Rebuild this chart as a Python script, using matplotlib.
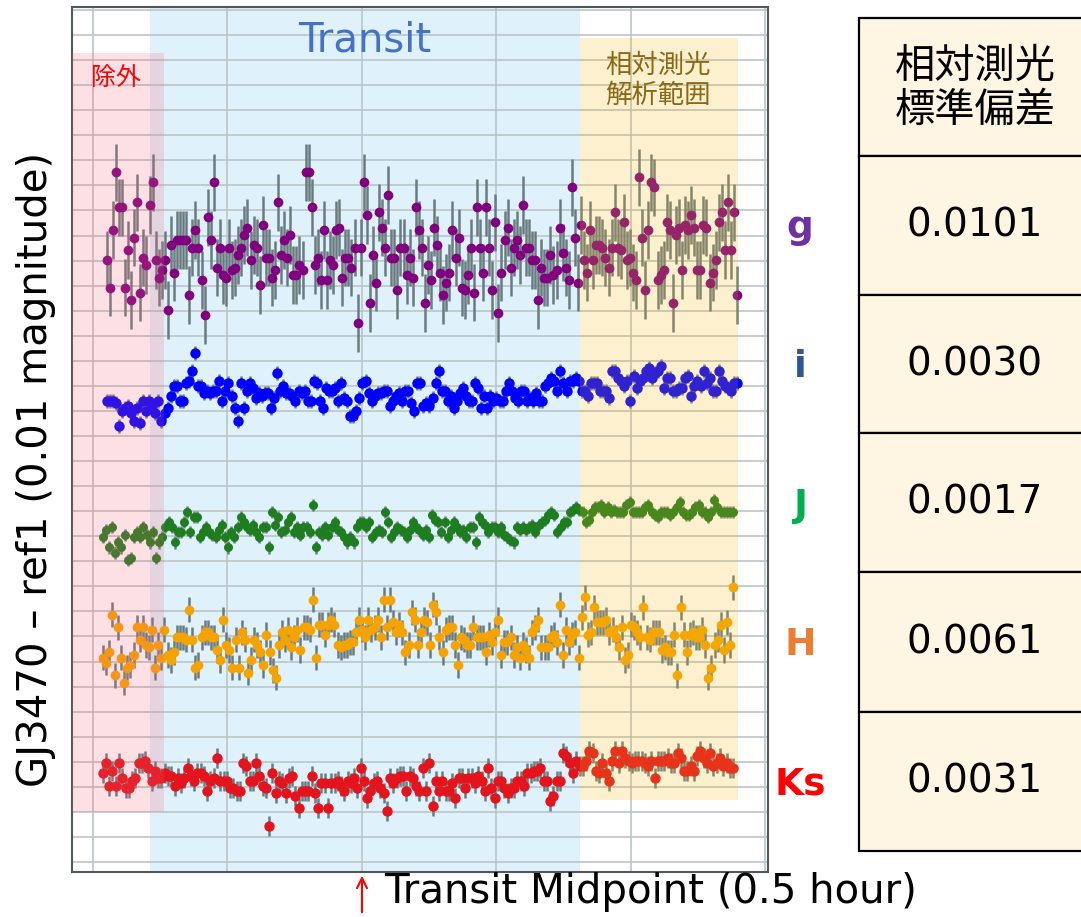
import numpy as np
import matplotlib
matplotlib.use("Agg")
import matplotlib.pyplot as plt
from matplotlib.patches import Rectangle

# light-curve deviations (units of 0.01 mag)
g_dev = [-0.4, -1.5, 0.8, 3.1, 1.7, 1.7, -1.5, 0.0, -2.0, 0.5, 1.9, -1.7, -0.3, -0.6, 1.8, 2.7, -0.4, -1.1,
         -0.8, -0.4, -2.4, 0.2, -0.9, 0.4, 0.4, 0.4, 0.4, -1.8, 0.1, 0.8, 0.1, -1.2, -2.6, 1.3, 0.4, 2.7,
         -0.7, 0.1, -1.0, -1.1, 0.1, -0.8, -0.7, -0.2, 0.1, 0.6, 0.9, -0.4, 0.2, 0.1, -1.4, 1.0, -0.3, -0.3,
         -1.1, -0.8, 1.9, -0.2, 0.4, -0.3, 0.6, -1.0, -1.0, -0.6, -0.8, 3.1, 3.1, 1.7, -0.6, -0.3, -1.2, 0.8,
         -1.2, -0.4, -0.6, 0.8, 0.9, -1.1, -0.3, -0.3, -0.7, 0.1, -2.9, 0.1, 2.7, 1.4, -2.1, -0.2, -1.3, 1.5,
         0.9, 0.1, 2.2, -0.3, -0.3, -1.6, 0.1, 0.1, -1.0, -0.3, -1.1, 1.7, 0.8, 0.1,
         -2.1, -0.6, -1.2, 0.9, 0.2, -0.9, -1.8, -1.3, -0.9, 0.8, -0.3, 0.5, -1.5, -1.6, -1.0, 0.1, -1.7, 1.7,
         0.1, -0.9, 1.7, 0.1, -1.6, 1.1, -2.5, -0.9, 0.4, 0.9, -0.7, 0.1, 0.4, -0.2, 1.8, 0.1, 0.1, -0.4,
         -0.4, -2.0, -0.7, -1.1, -1.1, -0.2, -1.0, -0.8, 0.9, -0.1, -0.7, -1.2, 2.5, 0.5, -1.3, 1.0, -0.4,
         -0.9, 0.8, -0.4, 0.2, 0.2, 0.1, -0.3, -0.7, 0.1, 1.5, 0.1, 0.0, 1.1, -0.4, -0.3, -0.9, -1.2, 2.9,
         0.5, -1.6, 0.8, 2.7, 2.5, -1.2, -1.0, -0.8, 1.1, 0.8, -2.1, 0.6, 0.9, -0.8, 1.0, 0.8, 1.4, 0.9,
         -0.8, -0.8, 1.0, 0.9, -1.3, -0.9, -0.4, 1.1, 1.5, 0.0, 1.9, 0.0, 1.5, -1.8]

i_dev = [-0.3, -0.3, -0.3, -0.4, -1.3, -0.7, -0.6, -0.5, -0.8, -1.1, -0.6, -1.2, -0.3, -0.7, -0.3, -0.5,
         -0.8, -0.3, -1.1, -0.8, -0.6, -0.1, 0.3, 0.3, -0.3, -0.3, 0.4, 0.5, 0.9, 1.6, 0.3, 0.3, 0.0, 0.1,
         0.0, 0.1, 0.1, 0.5, -0.3, 0.1, 0.4, -0.1, -0.6, -1.1, 0.4, -0.6, 0.1, 0.4, 0.2, -0.2, 0.0, -0.1,
         0.0, 0.0, -0.6, -0.2, 0.8, 0.1, 0.3, 0.0, 0.0, -0.1, -0.3, 0.1, 0.0, 0.1, -0.3, -0.3, 0.5, 0.4,
         -0.3, -0.6, 0.2, 0.1, 0.1, 0.2, -0.3, 0.4, -0.2, -0.3, -0.9, -0.9, -0.7, -0.2, 0.4, 0.5, 0.0, -0.3,
         -0.1, 0.0, 0.0, 0.1, 0.1, -0.5, -0.3, -0.1, 0.0, -0.3, 0.1, 0.1, -0.4, -0.7, 0.4, 0.4, -0.5,
         -0.4, -0.5, -0.2, 0.4, 0.9, 0.1, 0.1, -0.3, -0.1, -0.6, -0.3, 0.0, 0.2, -0.1, -0.3, -0.3, 0.4, 0.2,
         -0.6, -0.1, -0.6, -0.1, -0.3, -0.2, -0.3, -0.3, 0.1, 0.4, 0.1, -0.2, -0.3, 0.1, 0.1, -0.3, -0.2,
         -0.3, 0.0, -0.3, -0.3, 0.3, 0.4, 0.6, 0.5, 0.1, 0.9, 0.4, 0.1, 0.5, 0.5, 0.6, 0.5, 0.1, 0.1, -0.1,
         0.4, 0.4, 0.4, 0.1, 0.1, 0.1, -0.2, 0.9, 0.9, 0.6, 0.5, 0.3, 0.5, -0.3, 0.7, 0.2, 0.5, 0.6, 0.9,
         1.0, 0.6, 0.8, 0.9, 1.1, 0.2, 0.6, 0.6, 0.1, 0.1, 0.2, 0.2, 0.6, 0.7, -0.1, 0.3, 0.5, 0.3, 0.9,
         0.4, 0.6, 0.1, 0.1, 0.9, 0.5, 0.3, 0.2, 0.1, 0.4, 0.4]

J_dev = [-0.3, 0.0, -0.7, 0.1, -0.9, -0.5, -0.7, -0.2, -1.2, -1.1, -0.3, -0.1, -0.3, 0.1, -0.2, -0.5,
         -0.1, -1.1, -0.5, -0.3, 0.1, 0.3, 0.1, -0.5, -0.1, -0.1, 0.3, 0.7, -0.1, 0.5, 0.5, -0.3, -0.1,
         0.1, -0.1, -0.2, -0.3, 0.0, 0.2, -0.3, -0.7, -0.1, -0.3, 0.1, 0.5, 0.3, 0.1, 0.0, 0.2, -0.1, -0.3,
         0.1, 0.1, -0.7, 0.7, 0.2, 0.5, -0.1, 0.0, 0.3, 0.5, -0.1, 0.1, -0.2, 0.1, 0.1, -0.1, 1.0, -0.7,
         -0.1, -0.2, 0.1, -0.2, 0.1, 0.3, 0.0, -0.1, -0.3, -0.5, -0.3, -0.5, 0.1, 0.3, 0.3, 0.1, 0.3, -0.3,
         -0.1, 0.0, -0.1, 0.7, 0.3, -0.3, -0.1, 0.1, 0.0, -0.1, -0.3, 0.0, 0.3, 0.1, 0.0, -0.2, 0.0,
         -0.3, 0.6, 0.4, 0.3, -0.1, 0.3, -0.3, 0.0, 0.3, 0.1, -0.1, 0.0, -0.3, 0.1, 0.1, -0.5, 0.5, 0.3,
         0.2, -0.1, 0.1, 0.1, -0.1, 0.1, -0.2, -0.3, -0.4, -0.5, 0.1, 0.0, 0.1, 0.0, 0.1, 0.2, -0.1, 0.2,
         0.3, 0.4, 0.6, 0.7, 0.6, -0.1, 0.1, 0.3, 0.3, 0.7, 0.8, 0.9, 0.8, 0.7, 0.3, 0.4, 0.7, 0.9, 0.9,
         1.0, 0.7, 0.9, 0.7, 0.8, 0.7, 0.7, 0.7, 1.0, 1.1, 0.7, 0.7, 0.7, 0.7, 0.9, 1.0, 0.7, 0.6, 0.5,
         0.7, 0.7, 0.7, 0.6, 0.7, 0.9, 1.1, 0.7, 0.6, 0.6, 0.7, 0.9, 1.0, 0.7, 0.7, 0.5, 0.7, 1.2, 0.9,
         0.7, 0.7, 0.7, 0.7, 0.7]

H_dev = [-0.7, -0.9, -0.5, 1.0, -1.4, 0.5, -0.7, -1.7, -1.1, -1.0, -0.6, 0.5, 0.0, 0.5, -0.2, -0.3, 0.4,
         -1.1, -0.2, -0.7, 0.4, -0.6, -0.8, -0.5, 0.1, 0.1, 0.1, 0.0, 1.2, 0.0, -1.1, -1.0, 0.1, 0.3, 0.3,
         0.1, 0.1, -0.4, -0.8, 0.8, -0.2, -0.4, -1.1, 0.0, -1.1, 0.3, 0.0, -1.3, -0.8, 0.0, -0.2, -0.5,
         -1.0, 0.2, -0.5, -1.2, -1.5, -0.2, 0.3, 0.0, 0.4, -0.3, 0.1, 0.4, -0.4, 0.5, 0.5, 0.4, 1.6, -0.7,
         0.6, 0.6, 0.2, 0.6, 0.8, 0.6, -0.2, -0.3, -0.2, -0.2, -0.1, -0.1, 0.3, 0.8, 0.4, 0.1, 0.8, 0.4,
         0.5, 0.8, 0.1, 1.6, 0.5, 1.6, 0.7, 0.3, 0.6, 0.3, -0.5, -0.2, 1.1, 0.8, -0.2,
         0.3, 0.8, 0.7, -0.2, 1.4, 1.1, 0.1, -0.5, 0.4, 0.5, 0.5, -0.2, -1.0, 0.1, 0.0, -0.2, -0.2, 0.5,
         0.1, 0.1, 0.1, -0.5, 0.2, -0.1, 0.3, 0.8, -0.6, -0.1, -0.1, 0.1, -0.6, -0.3, -0.7, -0.2, -0.4,
         -0.7, 0.3, 0.5, 0.8, -0.3, -0.3, -0.3, 0.1, 0.2, -0.1, 1.4, -0.6, 0.4, -0.1, 0.2, 0.3, -0.7, 0.9,
         1.7, 0.2, 0.3, 1.3, 0.7, 0.7, 0.7, 0.8, 0.3, 0.4, 0.1, -0.3, 0.5, -0.8, -0.6, 0.6, 0.5, 0.3, 0.1,
         1.3, 0.1, 0.0, 0.3, 0.3, 0.3, -0.4, -0.3, -0.5, -0.5, 0.2, -1.4, 1.3, 0.2, -0.5, 0.2, 0.3, 0.1,
         0.1, 0.4, -0.2, -1.5, -1.1, -0.2, 0.0, 0.6, -0.4, 0.7, -0.2, 2.1]

Ks_dev = [0.2, 0.6, -0.3, 0.3, -0.3, 0.6, 0.0, -0.4, -0.4, -0.1, 0.0, 0.6, 0.6, 0.7, 0.4, -0.1, 0.3, 0.0,
          0.0, 0.2, 0.1, 0.1, -0.3, 0.0, -0.2, 0.0, 0.4, 0.1, -0.1, 0.2, 0.2, 0.1, -0.5, -0.1, 0.0, 0.8,
          -0.1, -0.1, -0.1, -0.4, -0.4, -0.5, -0.5, 0.6, 0.5, -0.1, -0.1, 0.6, 0.1, -0.3, -0.4, -1.9, 0.2,
          -0.6, -0.1, -0.2, -0.6, 0.0, 0.1, -0.7, -1.2, -0.5, -0.5, -0.5, 0.1, -0.6, -1.2, -0.2, -0.2, -1.2,
          -0.2, -0.2, -0.1, -0.3, -0.5, -0.1, -0.2, 0.0, -0.4, 0.4, -0.1, -0.8, -0.5, -0.2, -0.1, -0.4,
          -0.6, -1.3, 0.0, -0.2, 0.0, 0.1, 0.1, -0.5, 0.1, 0.0,
          -0.3, -0.5, 0.4, -0.5, 0.6, -1.1, -0.1, -0.5, -0.1, -0.5, -0.5, -0.2, -0.8, 0.0, 0.0, -0.4, 0.0,
          0.0, -0.2, 0.1, -0.1, -0.5, 0.4, -0.4, -0.8, -0.1, -0.1, -0.4, -0.6, -0.4, -0.4, -0.1, -0.1,
          -0.3, 0.2, 0.2, 0.3, 0.3, 0.4, -0.1, -0.1, -0.9, -0.7, -0.1, -0.1, 1.0, 0.9, 0.6, 0.2, 0.7, 0.5,
          0.5, 0.7, 1.1, 1.0, 0.3, 0.2, 0.6, 0.2, -0.1, 0.7, 1.1, 0.6, 1.1, 0.8, 0.7, 0.6, 0.7, 0.7, 0.7,
          0.6, 0.5, 0.7, 0.0, 0.7, 0.7, 0.7, 0.8, 0.6, 0.6, 1.0, 0.8, 0.3, 0.3, 0.5, 0.3, 0.9, 1.1, 0.8,
          0.6, 1.0, 0.5, 0.6, 0.8, 0.5, 0.6, 0.4, 0.4]

bands = ["g", "i", "J", "H", "Ks"]
curves = [g_dev, i_dev, J_dev, H_dev, Ks_dev]
offsets = [24.42, 18.70, 13.25, 8.86, 3.34]      # display offsets (0.01 mag)
errors = [1.15, 0.28, 0.24, 0.5, 0.4]            # typical error bar half-length
t_first = [-0.949, -0.949, -0.964, -0.964, -0.964]  # hours from transit midpoint
t_last = [1.396, 1.396, 1.381, 1.381, 1.381]
std_values = [0.0101, 0.0030, 0.0017, 0.0061, 0.0031]

marker_colors = ["#800080", "#0000ff", "#1e7d1e", "#f5a300", "#e3141c"]
marker_sizes = [7, 7.5, 6.5, 7, 7.5]
label_colors = ["#7030a0", "#2f5597", "#00b050", "#ed7d31", "#ff0000"]

W, H = 1081, 917
fig = plt.figure(figsize=(W / 100, H / 100), dpi=100)


def fx(px):
    return px / W


def fy(py):
    return 1 - py / H


ax = fig.add_axes([fx(72), fy(872), fx(768) - fx(72), fy(7) - fy(872)])
ax.set_xlim(-1.078, 1.511)
ax.set_ylim(-0.4, 34.12)
ax.set_xticks(np.arange(-1, 1.51, 0.5))
ax.set_yticks(np.arange(0, 35, 1))
ax.tick_params(length=0, labelbottom=False, labelleft=False)
ax.grid(True, color="#bcc5c8", lw=1.2)
ax.set_axisbelow(True)
for s in ax.spines.values():
    s.set_color("#50585a")
    s.set_linewidth(1.5)

# shaded ranges: transit (behind), excluded and analysis window (overlay)
ax.axvspan(-0.789, 0.8116, color="#dff1fa", lw=0, zorder=0.2)
ax.fill_between([-1.078, -0.737], 2.0, 32.3, color="#f56473", alpha=0.2, lw=0, zorder=5)
ax.fill_between([0.8116, 1.400], 2.47, 32.9, color="#f5b40f", alpha=0.2, lw=0, zorder=5)

for dev, off, err, t0, t1, c, ms in zip(curves, offsets, errors, t_first, t_last,
                                         marker_colors, marker_sizes):
    t = np.linspace(t0, t1, len(dev))
    y = off + np.array(dev)
    ax.vlines(t, y - err, y + err, color="#6a7b80", lw=1.8, zorder=3)
    ax.plot(t, y, "o", ms=ms, color=c, mec="none", zorder=4)

jp = ["Noto Sans CJK JP", "DejaVu Sans"]
fig.text(fx(365), fy(41), "Transit", color="#4472c4", fontsize=29, ha="center", va="center")
fig.text(fx(116), fy(78), "除外", color="#ff0000", fontsize=18, ha="center", va="center", family=jp)
fig.text(fx(658), fy(80), "相対測光\n解析範囲", color="#8b6914", fontsize=19, ha="center",
         va="center", family=jp, linespacing=1.15)

fig.text(fx(36), fy(469), "GJ3470 – ref1 (0.01 magnitude)", rotation=90, fontsize=29,
         ha="center", va="center")
fig.text(fx(384), fy(892), "Transit Midpoint (0.5 hour)", fontsize=29, ha="left", va="center")
ax.annotate("", xy=(fx(362), fy(873)), xytext=(fx(362), fy(915)), xycoords="figure fraction",
            arrowprops=dict(arrowstyle="->", color="red", lw=1.5, mutation_scale=18))

# table of relative photometry standard deviation
row_edges = [18, 156, 295, 433, 572, 712, 851]
for k in range(len(row_edges) - 1):
    top, bot = row_edges[k], row_edges[k + 1]
    fig.add_artist(Rectangle((fx(859), fy(bot)), fx(1100) - fx(859), fy(top) - fy(bot),
                             transform=fig.transFigure, facecolor="#fef6e3",
                             edgecolor="black", lw=1.6))
fig.text(fx(975), fy(88), "相対測光\n標準偏差", fontsize=29, ha="center", va="center",
         family=jp, linespacing=1.1)
for k, (b, v, c) in enumerate(zip(bands, std_values, label_colors)):
    yc = (row_edges[k + 1] + row_edges[k + 2]) / 2
    fig.text(fx(975), fy(yc), f"{v:.4f}", fontsize=28, ha="center", va="center")
    fig.text(fx(800), fy(yc + 3), b, fontsize=27, color=c, fontweight="bold",
             ha="center", va="center")

fig.savefig("out.png", dpi=100)
